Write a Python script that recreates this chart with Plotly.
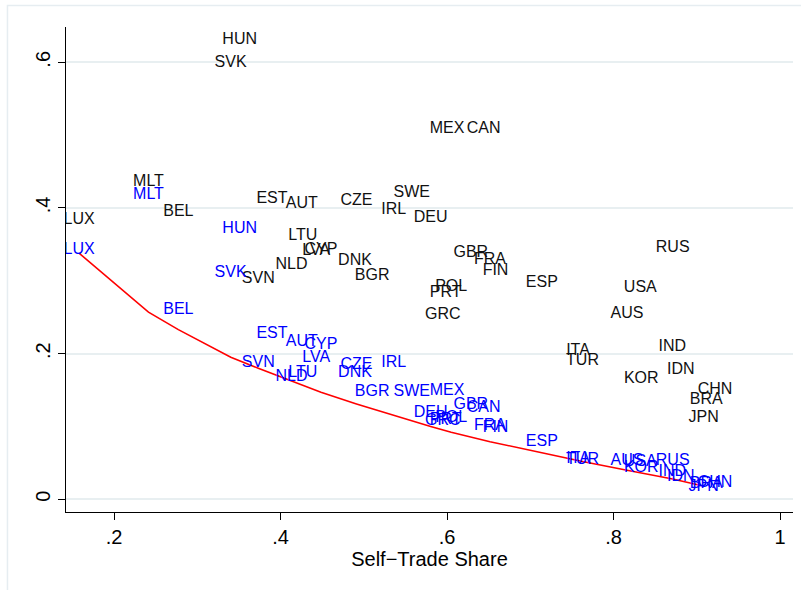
import plotly.graph_objects as go

# Country codes and their self-trade share (x)
countries = ["HUN", "SVK", "MEX", "CAN", "MLT", "LUX", "BEL", "EST", "AUT", "CZE",
             "SWE", "IRL", "DEU", "LTU", "LVA", "CYP", "NLD", "DNK", "BGR", "SVN",
             "GBR", "FRA", "FIN", "ESP", "POL", "PRT", "GRC", "RUS", "USA", "AUS",
             "ITA", "TUR", "IND", "IDN", "KOR", "CHN", "BRA", "JPN"]
self_trade_share = [0.351, 0.340, 0.600, 0.644, 0.2414, 0.158, 0.2773, 0.3898, 0.4255, 0.4913,
                    0.5576, 0.5361, 0.5804, 0.4268, 0.4430, 0.4486, 0.4132, 0.4895, 0.5101, 0.3733,
                    0.6286, 0.6517, 0.6583, 0.7139, 0.6050, 0.5984, 0.5950, 0.8711, 0.8322, 0.8162,
                    0.7574, 0.7628, 0.8707, 0.8808, 0.8333, 0.9219, 0.9115, 0.9084]

# Observed values (black labels)
observed = [0.631, 0.599, 0.508, 0.508, 0.435, 0.384, 0.394, 0.412, 0.405, 0.409,
            0.420, 0.397, 0.386, 0.362, 0.341, 0.342, 0.322, 0.327, 0.307, 0.303,
            0.338, 0.329, 0.314, 0.297, 0.291, 0.283, 0.253, 0.345, 0.290, 0.255,
            0.204, 0.190, 0.209, 0.177, 0.165, 0.150, 0.137, 0.111]

# Model values (blue labels)
model = [0.371, 0.311, 0.149, 0.125, 0.418, 0.342, 0.260, 0.227, 0.216, 0.185,
         0.148, 0.187, 0.119, 0.173, 0.194, 0.212, 0.168, 0.173, 0.148, 0.187,
         0.130, 0.100, 0.098, 0.079, 0.111, 0.109, 0.108, 0.053, 0.051, 0.053,
         0.055, 0.054, 0.037, 0.031, 0.043, 0.022, 0.021, 0.017]

# Benchmark curve (red line)
curve_x = [0.158, 0.2414, 0.2773, 0.3403, 0.3733, 0.4132, 0.4486, 0.4913, 0.5361,
           0.5804, 0.6050, 0.6517, 0.7139, 0.7628, 0.8162, 0.8711, 0.905]
curve_y = [0.338, 0.257, 0.233, 0.195, 0.180, 0.163, 0.147, 0.131, 0.115,
           0.100, 0.092, 0.079, 0.064, 0.052, 0.040, 0.028, 0.019]

x_ticks = [0.2, 0.4, 0.6, 0.8, 1.0]
x_tick_labels = [".2", ".4", ".6", ".8", "1"]
y_ticks = [0.0, 0.2, 0.4, 0.6]
y_tick_labels = ["0", ".2", ".4", ".6"]

FONT = "Liberation Sans, Arial, Helvetica, sans-serif"

fig = go.Figure()

fig.add_trace(go.Scatter(
    x=curve_x, y=curve_y, mode="lines",
    line=dict(color="#ff0000", width=1.6),
    hoverinfo="skip", showlegend=False,
))

fig.add_trace(go.Scatter(
    x=self_trade_share, y=observed, mode="text", text=countries,
    textposition="middle center",
    textfont=dict(family=FONT, size=16, color="#111111"),
    showlegend=False,
))

fig.add_trace(go.Scatter(
    x=self_trade_share, y=model, mode="text", text=countries,
    textposition="middle center",
    textfont=dict(family=FONT, size=16, color="#0000ff"),
    showlegend=False,
))

fig.update_layout(
    width=801, height=590,
    margin=dict(l=66, r=8, t=27, b=78),
    paper_bgcolor="white", plot_bgcolor="white",
    font=dict(family=FONT, color="#000000"),
    showlegend=False,
    xaxis=dict(
        range=[0.14234, 1.01562],
        tickvals=x_ticks, ticktext=x_tick_labels,
        ticks="outside", ticklen=7, tickwidth=1.3, tickcolor="#000000",
        tickfont=dict(size=20, family=FONT),
        showgrid=False, zeroline=False,
        showline=True, linecolor="#000000", linewidth=1.3,
        title=dict(text="Self\u2212Trade Share", font=dict(size=20, family=FONT), standoff=2),
    ),
    yaxis=dict(
        range=[-0.01744, 0.6485],
        tickvals=y_ticks, ticktext=y_tick_labels,
        ticks="outside", ticklen=7, tickwidth=1.3, tickcolor="#000000",
        tickangle=-90,
        tickfont=dict(size=20, family=FONT),
        showgrid=True, gridcolor="#e8eff1", gridwidth=1.5,
        zeroline=False,
        showline=True, linecolor="#000000", linewidth=1.3,
    ),
    shapes=[dict(
        type="rect", xref="paper", yref="paper",
        x0=-0.0805, x1=1.03, y0=-0.2, y1=1.0443,
        line=dict(color="#e6edf1", width=1.5), fillcolor="rgba(0,0,0,0)",
        layer="below",
    )],
)

fig.write_html("out.html")
